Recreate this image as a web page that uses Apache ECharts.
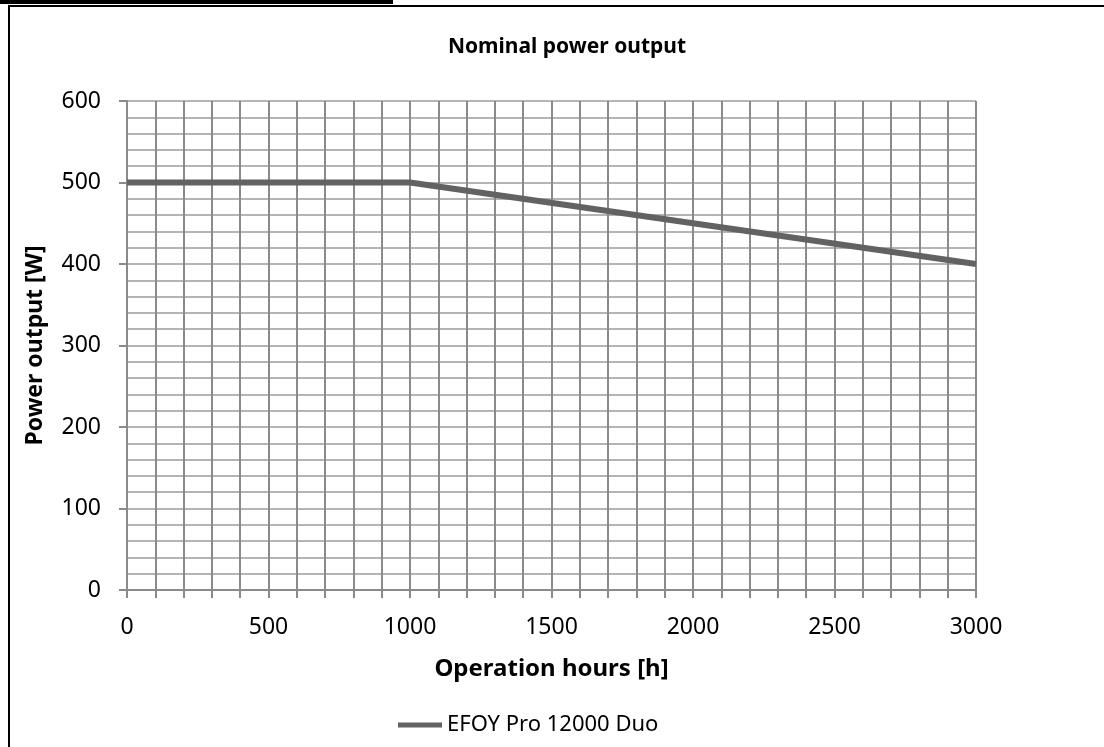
<!DOCTYPE html>
<html style="height: 100%">
<head>
  <meta charset="UTF-8" />
  <title>Nominal power output</title>
  <script src="https://cdn.jsdelivr.net/npm/echarts@6/dist/echarts.min.js"></script>
</head>
<body style="height: 100%; margin: 0; background: #fff">
  <div id="container" style="width: 1104px; height: 747px"></div>
  <script>
    // operation hours vs nominal power
    const hours = [0, 1000, 3000];
    const power = [500, 500, 400];
    const seriesName = 'EFOY Pro 12000 Duo';

    const font = '"Noto Sans", "DejaVu Sans", sans-serif';
    const chart = echarts.init(document.getElementById('container'), null, { renderer: 'canvas' });

    const option = {
      animation: false,
      title: {
        text: 'Nominal power output',
        left: 562,
        top: 32,
        textAlign: 'center',
        textStyle: { fontFamily: font, fontSize: 21, fontWeight: 'bold', color: '#000' }
      },
      legend: {
        data: [seriesName],
        left: 393,
        top: 709,
        icon: 'rect',
        itemWidth: 44,
        itemHeight: 5,
        itemGap: 8,
        textStyle: { fontFamily: font, fontSize: 22, color: '#000' }
      },
      grid: { left: 127, right: 128, top: 101, bottom: 157, containLabel: false },
      xAxis: {
        type: 'value',
        min: 0,
        max: 3000,
        interval: 500,
        name: 'Operation hours [h]',
        nameLocation: 'middle',
        nameGap: 67,
        nameTextStyle: { fontFamily: font, fontSize: 24, fontWeight: 'bold', color: '#000' },
        axisLine: { show: true, lineStyle: { color: '#8a8a8a', width: 2 } },
        axisTick: { show: true, length: 8, lineStyle: { color: '#8a8a8a', width: 2 } },
        minorTick: { show: true, splitNumber: 5, length: 8, lineStyle: { color: '#8a8a8a', width: 2 } },
        axisLabel: { margin: 26, fontFamily: font, fontSize: 23, color: '#000', formatter: v => String(v) },
        splitLine: { show: true, lineStyle: { color: '#8a8a8a', width: 2 } },
        minorSplitLine: { show: true, lineStyle: { color: '#8a8a8a', width: 2 } }
      },
      yAxis: {
        type: 'value',
        min: 0,
        max: 600,
        interval: 100,
        name: 'Power output [W]',
        nameLocation: 'middle',
        nameGap: 80,
        nameRotate: 90,
        nameTextStyle: { fontFamily: font, fontSize: 23, fontWeight: 'bold', color: '#000' },
        axisLine: { show: true, lineStyle: { color: '#8a8a8a', width: 2 } },
        axisTick: { show: true, length: 8, lineStyle: { color: '#8a8a8a', width: 2 } },
        axisLabel: { margin: 26, fontFamily: font, fontSize: 23, color: '#000' },
        splitLine: { show: true, lineStyle: { color: '#b4b4b4', width: 2 } },
        minorTick: { show: false, splitNumber: 5 },
        minorSplitLine: { show: true, lineStyle: { color: '#b4b4b4', width: 2 } }
      },
      series: [{
        name: seriesName,
        type: 'line',
        data: hours.map((h, i) => [h, power[i]]),
        symbol: 'none',
        color: '#626262',
        lineStyle: { color: '#626262', width: 6 },
        z: 5
      }],
      graphic: [
        { type: 'rect', shape: { x: 0, y: 0, width: 393, height: 4 }, style: { fill: '#000' } },
        { type: 'rect', shape: { x: 9, y: 6, width: 1200, height: 1000 }, style: { fill: 'none', stroke: '#000', lineWidth: 2 } }
      ]
    };
    chart.setOption(option);
  </script>
</body>
</html>
